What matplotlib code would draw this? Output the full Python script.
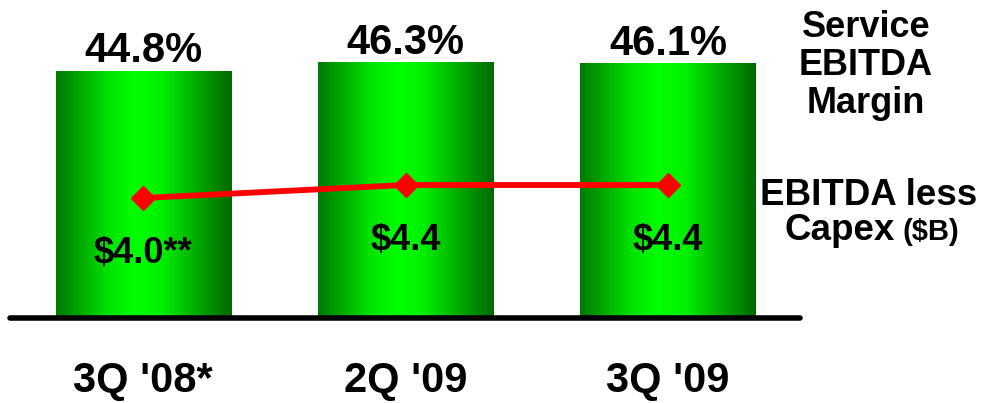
import numpy as np
import matplotlib
matplotlib.use("Agg")
import matplotlib.pyplot as plt
from matplotlib.colors import LinearSegmentedColormap

categories = ["3Q '08*", "2Q '09", "3Q '09"]
margin_pct = [44.8, 46.3, 46.1]
margin_labels = ["44.8%", "46.3%", "46.1%"]
ebitda_capex = [4.0, 4.4, 4.4]
capex_labels = ["$4.0**", "$4.4", "$4.4"]

plt.rcParams['font.family'] = ['Liberation Sans', 'DejaVu Sans']
plt.rcParams['font.weight'] = 'bold'

W, H = 984, 403
fig = plt.figure(figsize=(W/100, H/100), dpi=100)
ax_l, ax_r, ax_b, ax_t = 10, 800, 318, 0
ax = fig.add_axes([ax_l/W, (H-ax_b)/H, (ax_r-ax_l)/W, (ax_b-ax_t)/H])

x = np.arange(len(categories))
bw = 0.667

cmap = LinearSegmentedColormap.from_list(
    "g", [(0, "#007a00"), (0.3, "#00e400"), (0.45, "#00ff00"),
          (0.6, "#00f000"), (1, "#006800")])
grad = np.linspace(0, 1, 256).reshape(1, -1)
bars = ax.bar(x, margin_pct, width=bw, color="none", edgecolor="none")
for b in bars:
    x0, y0, w, h = b.get_x(), b.get_y(), b.get_width(), b.get_height()
    ax.imshow(grad, cmap=cmap, extent=[x0, x0+w, y0, y0+h], aspect="auto", zorder=1)
ax.set_xlim(-0.507, 2.503)
ax.set_ylim(0, 318/5.51)

for xi, v, lab in zip(x, margin_pct, margin_labels):
    ax.annotate(lab, (xi, v), xytext=(0, 6.5), textcoords="offset points",
                ha="center", va="baseline", fontsize=30, fontweight="bold")

ax2 = ax.twinx()
lo = 4.0 - (318-198)/32.5
ax2.set_ylim(lo, lo + 318/32.5)
ax2.plot(x, ebitda_capex, color="#ff0000", lw=4.2, marker="D", markersize=12, zorder=3)
for xi, v, lab in zip(x, ebitda_capex, capex_labels):
    ax2.annotate(lab, (xi, v), xytext=(0, -46.5), textcoords="offset points",
                 ha="center", va="baseline", fontsize=26, fontweight="bold")

for a in (ax, ax2):
    for s in ["top", "left", "right"]:
        a.spines[s].set_visible(False)
    a.set_yticks([])
ax2.spines["bottom"].set_visible(False)
ax.spines["bottom"].set_linewidth(4)
ax.spines["bottom"].set_capstyle("round")
ax.set_xticks(x)
ax.set_xticklabels(categories, fontsize=30, fontweight="bold")
ax.tick_params(axis="x", length=0, pad=31)

def ftext(xp, yp, s, fs, ha="center"):
    fig.text(xp/W, 1-yp/H, s, ha=ha, va="baseline", fontsize=fs, fontweight="bold")

ftext(866, 37, "Service", 26)
ftext(866, 75, "EBITDA", 26)
ftext(866, 113, "Margin", 26)
ftext(869, 205, "EBITDA less", 26.5)
ftext(784, 240, "Capex", 26.5, ha="left")
ftext(902, 240, "($B)", 21, ha="left")

fig.savefig("out.png", dpi=100)
